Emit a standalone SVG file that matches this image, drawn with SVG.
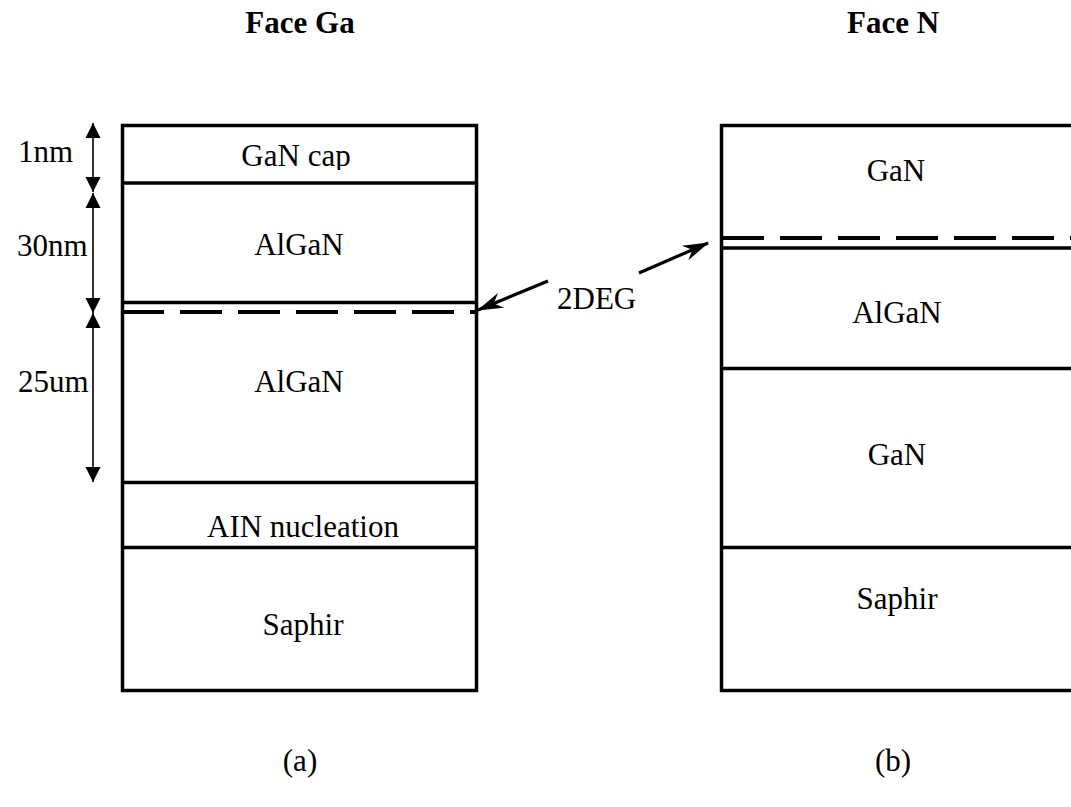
<svg xmlns="http://www.w3.org/2000/svg" width="1071" height="807" viewBox="0 0 1071 807">
  <style>
    text { font-family: "Liberation Serif", "Times New Roman", serif; font-size: 31px; fill: #000; }
    .title { font-weight: bold; }
    .mid { text-anchor: middle; }
    .layer { fill: none; stroke: #000; stroke-width: 3.5; }
    .dash { fill: none; stroke: #000; stroke-width: 4; stroke-dasharray: 42 16; }
    .dim { fill: none; stroke: #000; stroke-width: 1.6; marker-start: url(#tri); marker-end: url(#tri); }
    .ptr { fill: none; stroke: #000; stroke-width: 3.2; marker-end: url(#barb); }
  </style>
  <defs>
    <marker id="tri" viewBox="-16 -8 16 16" markerWidth="16" markerHeight="16" refX="0" refY="0" orient="auto-start-reverse" markerUnits="userSpaceOnUse">
      <path d="M0,0 L-15,-7.5 L-15,7.5 Z" fill="#000"/>
    </marker>
    <marker id="barb" viewBox="-26 -9 28 18" markerWidth="28" markerHeight="18" refX="0" refY="0" orient="auto" markerUnits="userSpaceOnUse">
      <path d="M1,0 L-25,-8 L-17,0 L-25,8 Z" fill="#000"/>
    </marker>
    <!-- trims the descender of the cap-layer label -->
    <clipPath id="capClip">
      <rect x="200" y="130" width="200" height="40"/>
    </clipPath>
  </defs>

  <!-- panel headings -->
  <text class="title mid" x="300" y="33" font-family="Liberation Serif, serif">Face Ga</text>
  <text class="title mid" x="893" y="33" font-family="Liberation Serif, serif">Face N</text>

  <!-- (a) Ga-face stack -->
  <g id="stack-ga">
    <rect class="layer" x="122.5" y="125.5" width="354" height="565"/>
    <line class="layer" x1="122" y1="183" x2="477" y2="183"/>
    <line class="layer" x1="122" y1="302.5" x2="477" y2="302.5"/>
    <line class="layer" x1="122" y1="482.5" x2="477" y2="482.5"/>
    <line class="layer" x1="122" y1="547.5" x2="477" y2="547.5"/>
    <line class="dash" x1="122" y1="312" x2="477" y2="312"/>
  </g>
  <g id="label-gan-cap"><text class="mid" x="296" y="166" clip-path="url(#capClip)">GaN cap</text></g>
  <g id="label-algan-a1"><text class="mid" x="299" y="255">AlGaN</text></g>
  <g id="label-algan-a2"><text class="mid" x="299" y="392">AlGaN</text></g>
  <g id="label-nucleation"><text class="mid" x="303" y="537">AIN nucleation</text></g>
  <g id="label-saphir-a"><text class="mid" x="303" y="635">Saphir</text></g>

  <!-- thickness dimensions -->
  <g id="dimensions">
    <line class="dim" x1="93" y1="123" x2="93" y2="192"/>
    <line class="dim" x1="93" y1="193" x2="93" y2="313"/>
    <line class="dim" x1="93" y1="313" x2="93" y2="482"/>
    <text x="18" y="162">1nm</text>
    <text x="17" y="256">30nm</text>
    <text x="18" y="392">25um</text>
  </g>

  <!-- (b) N-face stack -->
  <g id="stack-n">
    <rect class="layer" x="721.5" y="125.5" width="360" height="565"/>
    <line class="layer" x1="721" y1="248" x2="1072" y2="248"/>
    <line class="layer" x1="721" y1="368.5" x2="1072" y2="368.5"/>
    <line class="layer" x1="721" y1="547.5" x2="1072" y2="547.5"/>
    <line class="dash" x1="722" y1="238" x2="1072" y2="238"/>
  </g>
  <g id="label-gan-b1"><text class="mid" x="896" y="181">GaN</text></g>
  <g id="label-algan-b"><text class="mid" x="897" y="323">AlGaN</text></g>
  <g id="label-gan-b2"><text class="mid" x="897" y="465">GaN</text></g>
  <g id="label-saphir-b"><text class="mid" x="897" y="609">Saphir</text></g>

  <!-- 2DEG pointers -->
  <g id="connectors">
    <line class="ptr" x1="548" y1="281" x2="478" y2="310"/>
    <line class="ptr" x1="639" y1="273" x2="708" y2="243"/>
  </g>
  <g id="label-2deg"><text x="557" y="309">2DEG</text></g>

  <!-- panel captions -->
  <text class="mid" x="300" y="771">(a)</text>
  <text class="mid" x="893" y="771">(b)</text>
</svg>
